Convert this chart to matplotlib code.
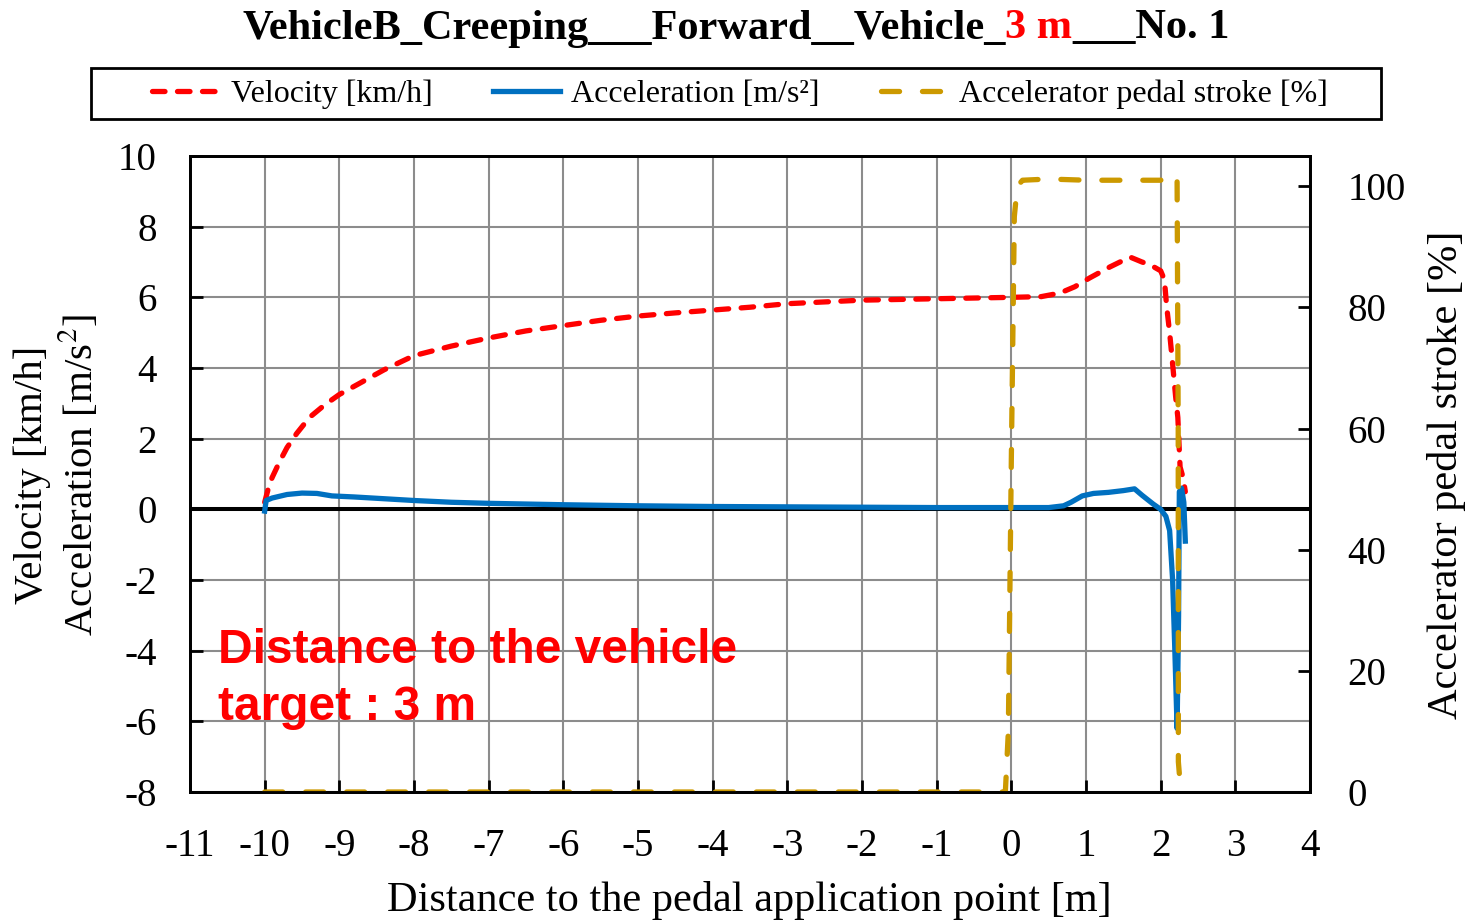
import matplotlib
matplotlib.use("Agg")
import matplotlib.pyplot as plt
from matplotlib.lines import Line2D
from matplotlib.patches import Rectangle

plt.rcParams['font.family'] = ['Liberation Serif', 'DejaVu Serif']
plt.rcParams['mathtext.fontset'] = 'stix'
plt.rcParams['lines.scale_dashes'] = False
plt.rcParams['axes.unicode_minus'] = False

# velocity [km/h]
vel_x = [-10, -9.95, -9.9, -9.8, -9.7, -9.57, -9.4, -9.2, -9.0, -8.7, -8.4, -8.0,
         -7.5, -7.0, -6.5, -6.0, -5.5, -5.0, -4.5, -4.0, -3.5, -3.0, -2.5, -2.0,
         -1.5, -1.0, -0.5, 0.0, 0.4, 0.65, 0.85, 1.05, 1.32, 1.59, 1.75, 1.86,
         2.0, 2.05, 2.08, 2.12, 2.165, 2.2, 2.23, 2.26, 2.3, 2.33]
vel_y = [0.2, 0.6, 0.9, 1.35, 1.75, 2.15, 2.6, 2.95, 3.25, 3.6, 3.95, 4.35,
         4.62, 4.85, 5.05, 5.2, 5.35, 5.47, 5.56, 5.64, 5.72, 5.82, 5.87, 5.92,
         5.94, 5.96, 5.98, 6.0, 6.02, 6.12, 6.3, 6.55, 6.86, 7.14, 7.0, 6.92,
         6.75, 6.5, 5.75, 5.0, 4.0, 3.2, 2.6, 1.2, 0.9, 0.5]

# acceleration [m/s2]
acc_x = [-10, -9.98, -9.9, -9.7, -9.5, -9.3, -9.1, -8.8, -8.4, -8.0, -7.5, -7.0,
         -6.5, -6.0, -5.0, -4.0, -3.0, -2.0, -1.0, 0.0, 0.5, 0.7, 0.8, 0.95, 1.1,
         1.3, 1.5, 1.65, 1.75, 1.9, 2.0, 2.07, 2.12, 2.16, 2.19, 2.22, 2.24, 2.25,
         2.28, 2.31, 2.33]
acc_y = [-0.05, 0.25, 0.32, 0.42, 0.46, 0.45, 0.38, 0.35, 0.3, 0.25, 0.2, 0.17,
         0.15, 0.13, 0.1, 0.08, 0.07, 0.06, 0.05, 0.05, 0.05, 0.1, 0.2, 0.38, 0.45,
         0.48, 0.53, 0.58, 0.4, 0.15, 0.0, -0.2, -0.6, -2.0, -4.0, -6.2, -3.0, 0.5,
         0.6, 0.2, -0.9]

# accelerator pedal stroke [%]
ped_x = [-10, -0.08, -0.04, 0.0, 0.04, 0.08, 0.15, 0.5, 1.0, 1.5, 2.0, 2.18,
         2.22, 2.235, 2.237, 2.27]
ped_y = [0, 0, 10, 55, 95, 100, 101, 101.2, 101, 101, 101, 102, 101, 60, 5, 0]

xticks = list(range(-11, 5))
left_ticks = list(range(-8, 11, 2))
right_ticks = list(range(0, 101, 20))

fig = plt.figure(figsize=(14.69, 9.23), dpi=100)
ax = fig.add_axes([190/1469, 1-792/923, 1120/1469, 636/923])
ax2 = ax.twinx()

red = '#ff0000'
blue = '#0070c0'
gold = '#cc9900'

ax.axhline(0, color='black', lw=2.9, zorder=2)
ax.plot(vel_x, vel_y, color=red, lw=3.8, dashes=(9, 9), dash_capstyle='round', zorder=3)
ax.plot(acc_x, acc_y, color=blue, lw=3.8, zorder=4)
ax2.plot(ped_x, ped_y, color=gold, lw=3.8, dashes=(13, 16.5), dash_capstyle='round')

ax.set_xlim(-11, 4)
ax.set_ylim(-8, 10)
ax2.set_ylim(0, 105)
ax.set_xticks(xticks)
ax.set_yticks(left_ticks)
ax2.set_yticks(right_ticks)
ax.grid(True, color='#8c8c8c', lw=1.5)
ax.set_axisbelow(True)

for a in (ax, ax2):
    for s in a.spines.values():
        s.set_linewidth(2)
        s.set_color('black')
ax.tick_params(axis='both', direction='in', length=9, width=2, labelsize=28, pad=24)
ax.tick_params(axis='x', pad=26)
ax2.tick_params(axis='y', direction='in', length=9, width=2, labelsize=28, pad=27)

fig.text(57/1469, 1-475/923, 'Velocity [km/h]\nAcceleration [m/s$^2$]',
         rotation=90, ha='center', va='center', fontsize=29.5, linespacing=1.2)
fig.text(1446/1469, 1-475/923, 'Accelerator pedal stroke [%]',
         rotation=90, ha='center', va='center', fontsize=30.5)
fig.text(749/1469, 1-900/923, 'Distance to the pedal application point [m]',
         ha='center', va='center', fontsize=30.5)

ax.text(0.025, 0.258, 'Distance to the vehicle\ntarget : 3 m', transform=ax.transAxes,
        ha='left', va='top', fontsize=34.5, fontweight='bold', color=red,
        family='Liberation Sans', linespacing=1.35)

# title with the red distance part
parts = [('VehicleB_Creeping___Forward__Vehicle_', 'black'), ('3 m', red),
         ('___No. 1', 'black')]
texts = [fig.text(0, 1-38.5/923, s, color=c, fontsize=30.5, fontweight='bold',
                  ha='left', va='baseline') for s, c in parts]
fig.canvas.draw()
r = fig.canvas.get_renderer()
widths = [t.get_window_extent(r).width for t in texts]
x0 = 736 - sum(widths) / 2
for t, w in zip(texts, widths):
    t.set_x(x0 / 1469)
    x0 += w

# legend: entries centred, frame drawn separately
h_vel = Line2D([], [], color=red, lw=3.8, dashes=(9, 9), dash_capstyle='round')
h_acc = Line2D([], [], color=blue, lw=3.8)
h_ped = Line2D([], [], color=gold, lw=3.8, dashes=(13, 16.5), dash_capstyle='round')
fig.legend([h_vel, h_acc, h_ped],
           ['Velocity [km/h]', 'Acceleration [m/s²]', 'Accelerator pedal stroke [%]'],
           loc='center', bbox_to_anchor=(740/1469, 1-94/923), ncol=3, fontsize=23,
           handlelength=2.1, handletextpad=0.35, columnspacing=1.9, frameon=False)
fig.patches.append(Rectangle((91/1469, 1-119/923), 1290/1469, 51/923,
                             transform=fig.transFigure, fill=False,
                             edgecolor='black', lw=2))

fig.savefig('out.png', dpi=100)
